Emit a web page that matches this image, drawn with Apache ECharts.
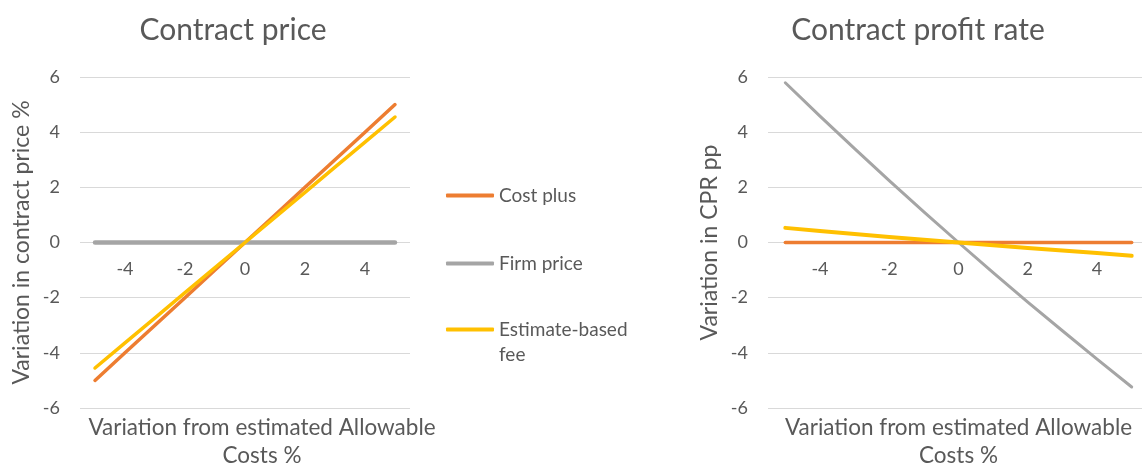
<!DOCTYPE html>
<html>
<head>
<meta charset="utf-8">
<script src="https://cdn.jsdelivr.net/npm/echarts@6/dist/echarts.min.js"></script>
<style>
  html, body { margin: 0; padding: 0; background: #ffffff; }
  #chart { width: 1142px; height: 467px; }
</style>
</head>
<body>
<div id="chart"></div>
<script>
// Variation from estimated allowable costs (%)
const costVariation = [-5, -4, -3, -2, -1, 0, 1, 2, 3, 4, 5];
const xTickValues = [-4, -2, 0, 2, 4];
const seriesNames = ['Cost plus', 'Firm price', 'Estimate-based fee'];

// Variation in contract price (%)
const priceCostPlus = [-5, -4, -3, -2, -1, 0, 1, 2, 3, 4, 5];
const priceFirm = [0, 0, 0, 0, 0, 0, 0, 0, 0, 0, 0];
const priceEstimate = [-4.55, -3.64, -2.73, -1.82, -0.91, 0, 0.91, 1.82, 2.73, 3.64, 4.55];

// Variation in contract profit rate (percentage points)
const cprCostPlus = [0, 0, 0, 0, 0, 0, 0, 0, 0, 0, 0];
const cprFirm = [5.79, 4.58, 3.40, 2.24, 1.11, 0, -1.09, -2.16, -3.20, -4.23, -5.24];
const cprEstimate = [0.53, 0.42, 0.31, 0.20, 0.10, 0, -0.10, -0.20, -0.29, -0.38, -0.48];

const COLORS = { 'Cost plus': '#ED7D31', 'Firm price': '#A5A5A5', 'Estimate-based fee': '#FFC000' };
const TEXT = '#595959';
const FONT = 'Lato';

function pairs(ys) { return costVariation.map((x, i) => [x, ys[i]]); }

function lineSeries(name, ys, idx, width) {
  return {
    type: 'line', name: name, data: pairs(ys),
    xAxisIndex: idx, yAxisIndex: idx,
    symbol: 'none', smooth: false,
    lineStyle: { color: COLORS[name], width: width, cap: 'round', join: 'round' },
    itemStyle: { color: COLORS[name] },
    emphasis: { disabled: true }
  };
}

// The x axis stays at the bottom of the grid; its tick labels are lifted
// (negative margin) so they sit just under the zero gridline.
function xAxis(idx, nameOffset) {
  return {
    type: 'value', gridIndex: idx, min: -5.5, max: 5.5, position: 'bottom',
    name: 'Variation from estimated Allowable\nCosts %',
    nameLocation: 'middle', nameGap: 6,
    nameTextStyle: { color: TEXT, fontFamily: FONT, fontSize: 22.5, lineHeight: 28, padding: [0, 0, 0, nameOffset] },
    axisLine: { show: false, onZero: false },
    axisTick: { show: false },
    splitLine: { show: false },
    axisLabel: { customValues: xTickValues, color: TEXT, fontFamily: FONT, fontSize: 18, margin: -148 }
  };
}

function yAxis(idx, name) {
  return {
    type: 'value', gridIndex: idx, min: -6, max: 6, interval: 2,
    name: name, nameLocation: 'middle', nameGap: 47, nameRotate: 90,
    nameTextStyle: { color: TEXT, fontFamily: FONT, fontSize: 23 },
    axisLine: { show: false }, axisTick: { show: false },
    splitLine: { lineStyle: { color: '#D9D9D9', width: 1 } },
    axisLabel: { color: TEXT, fontFamily: FONT, fontSize: 18, margin: 20 }
  };
}

// One legend block per series so each entry can be placed on its own row;
// the wrapped entry keeps its first line level with the swatch.
function legend(name, top, formatter, lineHeight) {
  return {
    data: [name], left: 441, top: top, orient: 'vertical',
    icon: 'roundRect', itemWidth: 48, itemHeight: 4, itemGap: 0,
    selectedMode: false,
    formatter: formatter || '{name}',
    textStyle: { color: TEXT, fontFamily: FONT, fontSize: 19, lineHeight: lineHeight }
  };
}

const chart = echarts.init(document.getElementById('chart'), null, { renderer: 'canvas' });
chart.setOption({
  animation: false,
  backgroundColor: '#ffffff',
  title: [
    { text: 'Contract price', left: 233, top: 15, textAlign: 'center', padding: 0,
      textStyle: { color: TEXT, fontFamily: FONT, fontSize: 30, fontWeight: 'normal' } },
    { text: 'Contract profit rate', left: 918, top: 15, textAlign: 'center', padding: 0,
      textStyle: { color: TEXT, fontFamily: FONT, fontSize: 30, fontWeight: 'normal' } }
  ],
  legend: [
    legend('Cost plus', 181),
    legend('Firm price', 249),
    legend('Estimate-based fee', 287, '\nEstimate-based\nfee', 25)
  ],
  grid: [
    { left: 80, width: 330, top: 77, height: 331, outerBoundsMode: 'none', containLabel: false },
    { left: 768, width: 381, top: 77, height: 331, outerBoundsMode: 'none', containLabel: false }
  ],
  xAxis: [xAxis(0, 34), xAxis(1, 0)],
  yAxis: [yAxis(0, 'Variation in contract price %'), yAxis(1, 'Variation in CPR pp')],
  series: [
    lineSeries('Cost plus', priceCostPlus, 0, 3.5),
    lineSeries('Firm price', priceFirm, 0, 4.5),
    lineSeries('Estimate-based fee', priceEstimate, 0, 3.5),
    lineSeries('Cost plus', cprCostPlus, 1, 3.5),
    lineSeries('Firm price', cprFirm, 1, 3),
    lineSeries('Estimate-based fee', cprEstimate, 1, 4)
  ]
});
</script>
</body>
</html>
